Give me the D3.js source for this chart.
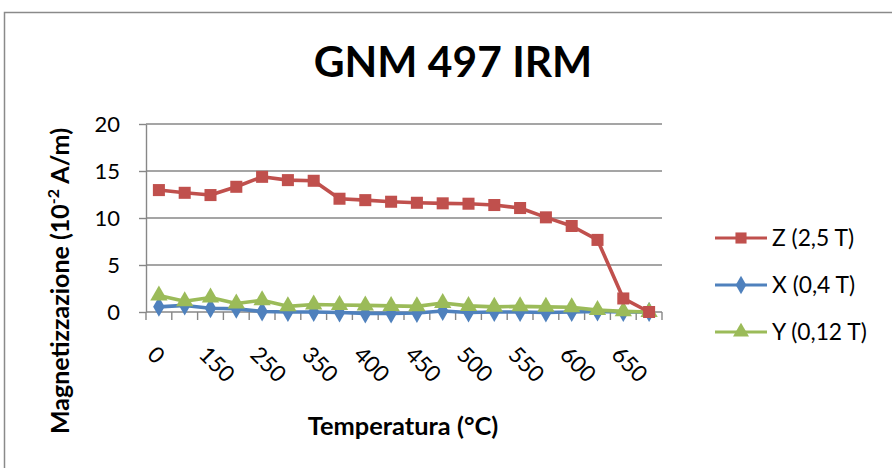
<!DOCTYPE html>
<html>
<head>
<meta charset="utf-8">
<script src="https://cdn.jsdelivr.net/npm/d3@7"></script>
<style>
  body { margin: 0; background: #fff; }
  svg { display: block; }
  text { font-family: Lato, "Open Sans", sans-serif; fill: #000; }
</style>
</head>
<body>
<svg id="chart" width="892" height="468"></svg>
<script>
// Temperature steps of the thermal demagnetisation (°C)
const categories = ["0", "100", "150", "200", "250", "300", "350", "375", "400", "425",
                    "450", "475", "500", "525", "550", "575", "600", "625", "650", "675"];
// Remanent magnetisation per axis (10^-2 A/m)
const seriesZ = [12.97, 12.68, 12.44, 13.32, 14.38, 14.03, 13.96, 12.05, 11.9, 11.73,
                 11.62, 11.56, 11.52, 11.38, 11.06, 10.07, 9.15, 7.67, 1.44, 0.0];
const seriesX = [0.55, 0.7, 0.4, 0.35, 0.05, 0.0, 0.0, -0.05, -0.15, -0.15,
                 -0.1, 0.1, -0.05, 0.0, 0.0, -0.05, 0.0, 0.05, 0.0, 0.0];
const seriesY = [1.75, 1.15, 1.55, 0.9, 1.25, 0.6, 0.8, 0.75, 0.7, 0.65,
                 0.6, 0.95, 0.65, 0.55, 0.6, 0.55, 0.5, 0.2, 0.07, 0.0];
const yTicks = [0, 5, 10, 15, 20];
const seriesNames = ["Z (2,5 T)", "X (0,4 T)", "Y (0,12 T)"];
const seriesColors = ["#C0504D", "#4F81BD", "#9BBB59"];
const seriesSymbols = [d3.symbolSquare, d3.symbolDiamond, d3.symbolTriangle];

const svg = d3.select("#chart");
const gridColor = "#878787";

// Chart frame
svg.append("path")
  .attr("d", "M4.5,468 V12.5 H892")
  .attr("fill", "none").attr("stroke", "#8a8a8a").attr("stroke-width", 1.5);

const plot = { left: 146, right: 662, top: 124, bottom: 312 };
const x = d3.scaleBand().domain(categories).range([plot.left, plot.right]);
const y = d3.scaleLinear().domain([0, 20]).range([plot.bottom, plot.top]);
const cx = c => x(c) + x.bandwidth() / 2;

// Title
svg.append("text")
  .attr("x", 453).attr("y", 77)
  .attr("text-anchor", "middle")
  .attr("font-weight", "bold").attr("font-size", 42.5)
  .text("GNM 497 IRM");

// Horizontal gridlines
svg.append("g").selectAll("line")
  .data(yTicks.filter(t => t > 0))
  .join("line")
  .attr("x1", plot.left).attr("x2", plot.right)
  .attr("y1", d => y(d)).attr("y2", d => y(d))
  .attr("stroke", gridColor).attr("stroke-width", 1.4);

// Y axis
const yAxis = svg.append("g")
  .attr("transform", `translate(${plot.left},0)`)
  .call(d3.axisLeft(y).tickValues(yTicks).tickSize(7).tickSizeOuter(0).tickPadding(19));
yAxis.select(".domain").attr("stroke", gridColor).attr("stroke-width", 1.4);
yAxis.selectAll(".tick line").attr("stroke", gridColor).attr("stroke-width", 1.4);
yAxis.selectAll(".tick text")
  .attr("font-family", "Lato, sans-serif").attr("font-size", 22).attr("fill", "#000");

// X axis: line with tick marks between categories
const xAxis = svg.append("g");
xAxis.append("line")
  .attr("x1", plot.left).attr("x2", plot.right)
  .attr("y1", plot.bottom).attr("y2", plot.bottom)
  .attr("stroke", gridColor).attr("stroke-width", 1.4);
xAxis.selectAll("line.tick")
  .data(categories.map(c => x(c)).concat([x.range()[1]]))
  .join("line")
  .attr("class", "tick")
  .attr("x1", d => d).attr("x2", d => d)
  .attr("y1", plot.bottom).attr("y2", plot.bottom + 8)
  .attr("stroke", gridColor).attr("stroke-width", 1.4);
xAxis.selectAll("text")
  .data(categories.filter((c, i) => i % 2 === 0))
  .join("text")
  .attr("transform", d => `translate(${cx(d) - 13},356) rotate(45)`)
  .attr("font-size", 22.5)
  .text(d => d);

// Axis titles
svg.append("text")
  .attr("x", 403).attr("y", 435)
  .attr("text-anchor", "middle")
  .attr("font-weight", "bold").attr("font-size", 25.4)
  .text("Temperatura (°C)");

const yTitle = svg.append("text")
  .attr("transform", "translate(69,281) rotate(-90)")
  .attr("text-anchor", "middle")
  .attr("font-weight", "bold").attr("font-size", 25);
yTitle.append("tspan").text("Magnetizzazione (10");
yTitle.append("tspan").attr("font-size", 16).attr("dy", -10).text("-2");
yTitle.append("tspan").attr("dy", 10).text(" A/m)");

// Series: lines with markers
const line = d3.line()
  .x((d, i) => cx(categories[i]))
  .y(d => y(d));

const seriesData = [seriesZ, seriesX, seriesY];
const drawOrder = [1, 2, 0];
const symbolSizes = [145, 115, 130];

drawOrder.forEach(k => {
  const g = svg.append("g");
  g.append("path")
    .datum(seriesData[k])
    .attr("d", line)
    .attr("fill", "none")
    .attr("stroke", seriesColors[k])
    .attr("stroke-width", 3.6)
    .attr("stroke-linejoin", "round");
  g.selectAll("path.marker")
    .data(seriesData[k])
    .join("path")
    .attr("class", "marker")
    .attr("transform", (d, i) => `translate(${cx(categories[i])},${y(d)})`)
    .attr("d", d3.symbol().type(seriesSymbols[k]).size(symbolSizes[k]))
    .attr("fill", seriesColors[k]);
});

// Legend
const legend = svg.append("g");
const legendRows = [238, 285, 332];
seriesNames.forEach((name, k) => {
  const row = legend.append("g").attr("transform", `translate(0,${legendRows[k]})`);
  row.append("line")
    .attr("x1", 715).attr("x2", 767)
    .attr("stroke", seriesColors[k]).attr("stroke-width", 3);
  row.append("path")
    .attr("transform", "translate(741,0)")
    .attr("d", d3.symbol().type(seriesSymbols[k]).size(symbolSizes[k] * 0.85))
    .attr("fill", seriesColors[k]);
  row.append("text")
    .attr("x", 772).attr("y", 0).attr("dy", "0.36em")
    .attr("font-size", 22.8)
    .text(name);
});
</script>
</body>
</html>
